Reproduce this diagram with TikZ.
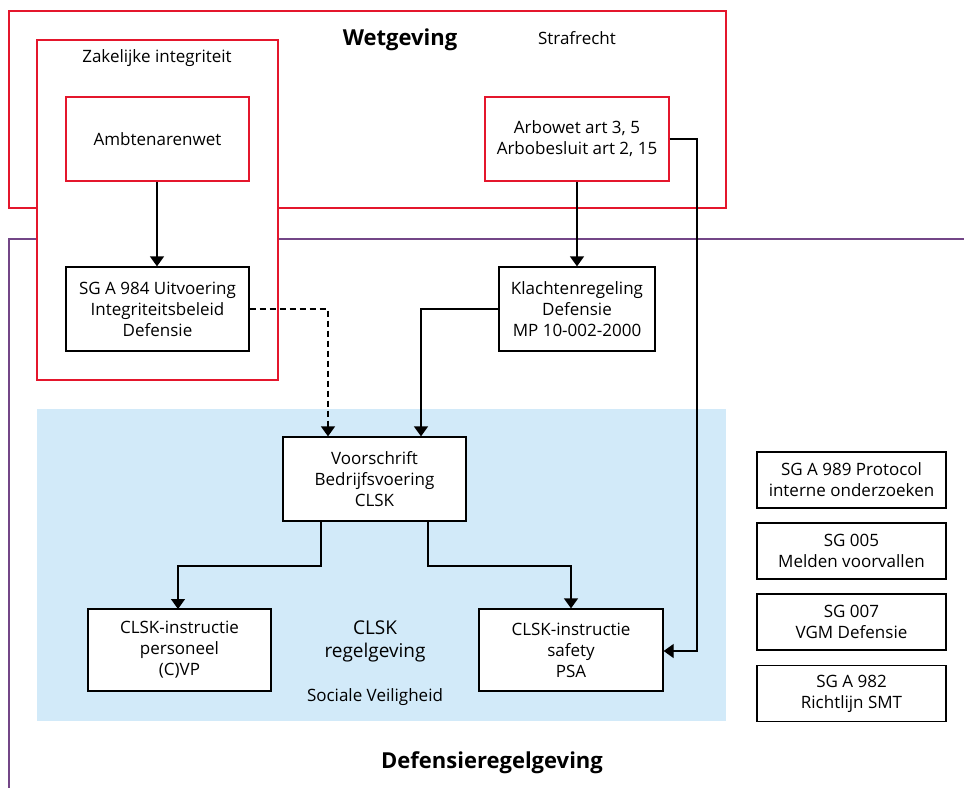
\documentclass[tikz,border=0pt]{standalone}
\usepackage{fontspec}
\setmainfont{Open Sans}
\usetikzlibrary{arrows.meta}
\definecolor{rred}{RGB}{228,22,44}
\definecolor{rpurple}{RGB}{115,70,135}
\definecolor{rblue}{RGB}{210,234,249}
\tikzset{
  txt/.style={font=\fontsize{17}{21}\selectfont, align=center, inner sep=0pt},
  blackbox/.style={txt, draw=black, line width=1.3pt, fill=white},
  redbox/.style={txt, draw=rred, line width=1.3pt, fill=white},
  conn/.style={line width=1.3pt, -{Triangle[width=14pt,length=10pt]}},
}
\begin{document}
\begin{tikzpicture}[x=1pt,y=-1pt]
\useasboundingbox (0,0) rectangle (964,788);
% outer frames
\draw[rpurple, line width=1.3pt] (964,239) -- (9,239) -- (9,788);
\draw[rred, line width=1.3pt] (9,11) rectangle (726,208);
\node[draw=rred, line width=1.3pt, fill=white, minimum width=241pt, minimum height=340pt, inner sep=0pt] (zak) at (157.5,210) {};
\fill[rblue] (37,409) rectangle (726,721);
% labels
\node[txt, font=\fontsize{22}{26}\selectfont\bfseries] (wet) at (400,40) {Wetgeving};
\node[txt] (straf) at (577,38) {Strafrecht};
\node[txt] (zaklbl) at (157,58) {Zakelijke integriteit};
\node[txt, font=\fontsize{22}{26}\selectfont\bfseries] (def) at (492,763) {Defensieregelgeving};
\node[txt, font=\fontsize{19}{23}\selectfont] (clsk) at (375,641) {CLSK\\regelgeving};
\node[txt] (soc) at (375,697) {Sociale Veiligheid};
% boxes
\node[redbox, minimum width=183pt, minimum height=84pt] (amb) at (157.5,139) {Ambtenarenwet};
\node[redbox, minimum width=184pt, minimum height=84pt] (arbo) at (577,139) {Arbowet art 3, 5\\Arbobesluit art 2, 15};
\node[blackbox, minimum width=183pt, minimum height=84pt] (sga) at (157.5,309) {SG A 984 Uitvoering\\Integriteitsbeleid\\Defensie};
\node[blackbox, minimum width=156pt, minimum height=84pt] (klacht) at (577,309) {Klachtenregeling\\Defensie\\MP 10-002-2000};
\node[blackbox, minimum width=183pt, minimum height=84pt] (voor) at (374.5,479) {Voorschrift\\Bedrijfsvoering\\CLSK};
\node[blackbox, minimum width=183pt, minimum height=82pt] (pers) at (179.5,650) {CLSK-instructie\\personeel\\(C)VP};
\node[blackbox, minimum width=184pt, minimum height=82pt] (safe) at (571,650) {CLSK-instructie\\safety\\PSA};
\node[blackbox, minimum width=189pt, minimum height=56pt] (r1) at (851.5,480) {SG A 989 Protocol\\interne onderzoeken};
\node[blackbox, minimum width=189pt, minimum height=56pt] (r2) at (851.5,551) {SG 005\\Melden voorvallen};
\node[blackbox, minimum width=189pt, minimum height=56pt] (r3) at (851.5,622) {SG 007\\VGM Defensie};
\node[blackbox, minimum width=189pt, minimum height=56pt] (r4) at (851.5,693.5) {SG A 982\\Richtlijn SMT};
% connectors
\coordinate (c1) at (328,309);
\coordinate (c2) at (421,309);
\coordinate (c3) at (697,139);
\coordinate (c4) at (697,651);
\draw[conn] ([xshift=-0.5pt]amb.south) -- ([xshift=-0.5pt]sga.north);
\draw[conn] (arbo.south) -- (klacht.north);
\draw[conn, dashed, dash pattern=on 6pt off 4pt] (sga.east) -- (c1) -- (c1 |- voor.north);
\draw[conn] (klacht.west) -- (c2) -- (c2 |- voor.north);
\draw[conn] ([xshift=-53.5pt]voor.south) |- (178,566) -- (178,609);
\draw[conn] ([xshift=53.5pt]voor.south) |- (571,566) -- (safe.north);
\draw[conn] (arbo.east) -- (c3) -- (c4) -- (c4 -| safe.east);
\end{tikzpicture}
\end{document}
